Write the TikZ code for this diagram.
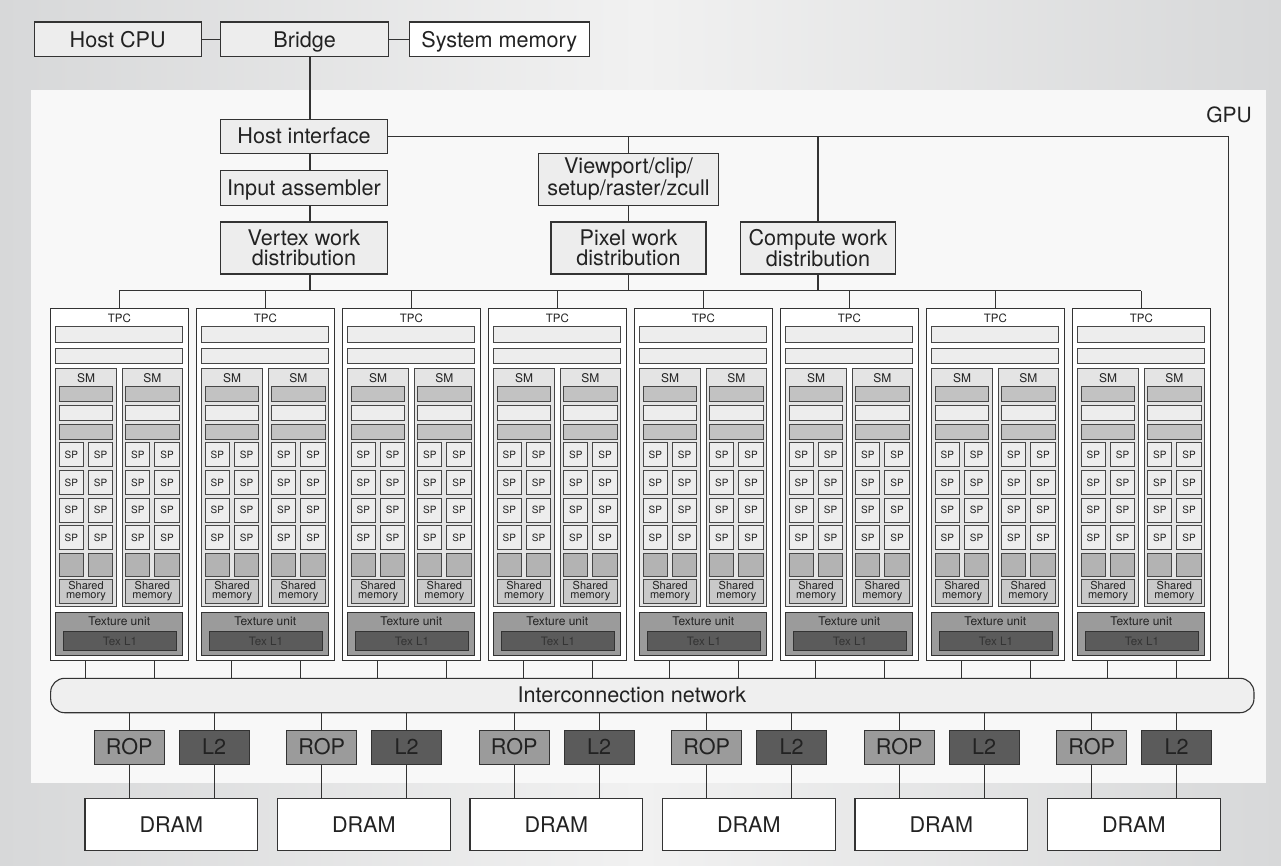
\documentclass[tikz,border=0pt]{standalone}
\usepackage{fontspec}
\setmainfont{TeX Gyre Heros}
\usetikzlibrary{calc}

\definecolor{bgdark}{HTML}{D7D8D9}
\definecolor{bglight}{HTML}{F1F1F1}
\definecolor{gpufill}{HTML}{F8F8F8}
\definecolor{boxfill}{HTML}{EDEDED}
\definecolor{linecol}{HTML}{333333}
\definecolor{innercol}{HTML}{474747}
\definecolor{txtcol}{HTML}{222222}
\definecolor{smfill}{HTML}{E4E4E4}
\definecolor{bardark}{HTML}{C2C2C2}
\definecolor{sqfill}{HTML}{B3B3B3}
\definecolor{shfill}{HTML}{C9C9C9}
\definecolor{texfill}{HTML}{9B9B9B}
\definecolor{tlfill}{HTML}{5B5B5B}
\definecolor{icnfill}{HTML}{EFEFEF}

\newcommand{\bigfont}{\fontsize{21.6}{20}\selectfont}

\begin{document}
\begin{tikzpicture}[x=1pt, y=-1pt,
	line/.style={draw=linecol, line width=1.1pt},
	blk/.style={line, fill=boxfill, inner sep=0pt, align=center, text=txtcol, font=\bigfont},
	oneline/.style={text height=15.5pt, text depth=0pt},
	tpcbox/.style={draw=linecol, line width=1pt, fill=white, inner sep=0pt},
	bar/.style={draw=innercol, line width=0.9pt, fill=boxfill},
	darkbar/.style={bar, fill=bardark},
	smbox/.style={draw=innercol, line width=0.9pt, fill=smfill},
	spbox/.style={draw=innercol, line width=0.9pt, fill=boxfill, inner sep=0pt, text=txtcol,
		minimum width=24.2pt, minimum height=24pt, font=\fontsize{10}{10}\selectfont},
	shbox/.style={draw=innercol, line width=0.9pt, fill=shfill, inner sep=0pt, align=center, text=txtcol,
		minimum width=53.4pt, minimum height=24.3pt, font=\fontsize{11}{9.6}\selectfont},
	texbox/.style={draw=linecol, line width=0.9pt, fill=texfill, inner sep=0pt},
	tlbox/.style={draw=linecol, line width=0.9pt, fill=tlfill, inner sep=0pt, text=black!80,
		minimum width=113.4pt, minimum height=19pt, font=\fontsize{11.6}{12}\selectfont},
	ropbox/.style={blk, oneline, fill=texfill, minimum width=69.7pt, minimum height=34.3pt},
	ltwobox/.style={blk, oneline, fill=tlfill, minimum width=69.7pt, minimum height=34.3pt},
	drambox/.style={blk, oneline, fill=white, minimum width=172.7pt, minimum height=52.4pt}]

	\useasboundingbox (0,0) rectangle (1281,865);
	\shade[left color=bgdark, right color=bgdark, middle color=bglight] (0,0) rectangle (1281,865);
	\fill[gpufill] (31,90) rectangle (1266,782.7);
	\node[text=txtcol, font=\fontsize{21}{22}\selectfont] (gpulbl) at (1229,115) {GPU};

	% host side
	\node[blk, oneline, minimum width=166.7pt, minimum height=34.7pt] (hostcpu) at (117.7,39.3) {Host CPU};
	\node[blk, oneline, minimum width=168pt, minimum height=34.7pt] (bridge) at (304.7,39.3) {Bridge};
	\node[blk, oneline, fill=white, minimum width=180pt, minimum height=34.7pt] (sysmem) at (499.3,39.3) {System memory};
	\draw[line] (hostcpu) -- (bridge);
	\draw[line] (bridge) -- (sysmem);

	% front end
	\coordinate (spine) at (310,0);
	\coordinate (hostrt) at (1228.3,0);
	\coordinate (bus) at (0,290.7);
	\node[blk, oneline, minimum width=166.6pt, minimum height=34.3pt] (hostif) at (304,136.2) {Host interface};
	\node[blk, oneline, minimum width=166.6pt, minimum height=34.3pt] (inasm) at (304,187.9) {Input assembler};
	\node[blk, minimum width=166.6pt, minimum height=52pt] (vwd) at (304,248) {Vertex work\\distribution};
	\node[blk, minimum width=180.4pt, minimum height=51.7pt] (vpc) at (628.5,179.2) {Viewport/clip/\\setup/raster/zcull};
	\node[blk, minimum width=155pt, minimum height=52pt] (pwd) at (628.5,248) {Pixel work\\distribution};
	\node[blk, minimum width=155.3pt, minimum height=52pt] (cwd) at (818,248) {Compute work\\distribution};

	\draw[line] (bridge.south -| spine) -- (hostif.north -| spine);
	\draw[line] (hostif.south -| spine) -- (inasm.north -| spine);
	\draw[line] (inasm.south -| spine) -- (vwd.north -| spine);
	\draw[line] (vpc.north) -- (vpc.north |- hostif.east);
	\draw[line] (cwd.north) -- (cwd.north |- hostif.east);
	\draw[line] (vpc.south) -- (pwd.north);

	% interconnect
	\node[line, fill=icnfill, rounded corners=14pt, minimum width=1203.3pt, minimum height=34.4pt, inner sep=0pt] (icn) at (652.3,695.5) {};
	\node[text=txtcol, font=\bigfont] (icntxt) at (632,694.5) {Interconnection network};
	\draw[line] (hostif.east) -| (icn.north -| hostrt);

	% TPCs
	\foreach \i in {1,...,8}{
		\pgfmathsetmacro{\tl}{50.7+146*(\i-1)}
		\node[tpcbox, minimum width=137.3pt, minimum height=352pt] (tpc\i) at (\tl+68.65,484) {};
		\begin{scope}[shift={(\tl,308)}]
			\node[text=txtcol, font=\fontsize{11.5}{12}\selectfont] (tpclbl\i) at (68.65,10) {TPC};
			\draw[bar] (5,18.7) rectangle (132,34);
			\draw[bar] (5,40) rectangle (132,55);
			\foreach \s/\sx in {a/5,b/71.4}{
				\begin{scope}[shift={(\sx,60)}]
					\draw[smbox] (0,0) rectangle (60.6,238.7);
					\node[text=txtcol, font=\fontsize{12}{12}\selectfont] (smlbl\i\s) at (30.3,10) {SM};
					\draw[darkbar] (3.6,18.7) rectangle (57,33.7);
					\draw[bar] (3.6,37) rectangle (57,52);
					\draw[darkbar] (3.6,56) rectangle (57,71);
					\foreach \r/\ry in {1/86.7,2/114.4,3/142.1,4/169.8}{
						\node[spbox] (spl\i\s\r) at (15.7,\ry) {SP};
						\node[spbox] (spr\i\s\r) at (44.9,\ry) {SP};
					}
					\draw[smbox, fill=sqfill] (3.6,185.5) rectangle (27.8,208);
					\draw[smbox, fill=sqfill] (32.8,185.5) rectangle (57,208);
					\node[shbox] (shm\i\s) at (30.3,223.2) {Shared\\memory};
				\end{scope}
			}
			\node[texbox, minimum width=127pt, minimum height=42.3pt] (texu\i) at (68.5,325.85) {};
			\node[text=txtcol, font=\fontsize{12}{12}\selectfont] (texlbl\i) at (68.5,313.7) {Texture unit};
			\node[tlbox] (texlone\i) at (69.3,333.2) {Tex L1};
		\end{scope}
		\draw[line] (tpc\i.north) -- (tpc\i.north |- bus);
		\coordinate (dl\i) at ($(tpc\i.south west)+(35,0)$);
		\coordinate (dr\i) at ($(tpc\i.south west)+(104,0)$);
		\draw[line] (dl\i) -- (dl\i |- icn.north);
		\draw[line] (dr\i) -- (dr\i |- icn.north);
	}
	\draw[line] (tpc1.north |- bus) -- (tpc8.north |- bus);
	\draw[line] (vwd.south -| spine) -- (spine |- bus);
	\draw[line] (pwd.south) -- (pwd.south |- bus);
	\draw[line] (cwd.south) -- (cwd.south |- bus);

	% memory partitions
	\foreach \j in {0,...,5}{
		\pgfmathsetmacro{\dx}{85+192.5*\j}
		\node[ropbox] (rop\j) at (\dx+44.2,747.2) {ROP};
		\node[ltwobox] (ltwo\j) at (\dx+129.2,747.2) {L2};
		\node[drambox] (dram\j) at (\dx+86.3,824.5) {DRAM};
		\draw[line] (rop\j.north |- icn.south) -- (rop\j.north);
		\draw[line] (ltwo\j.north |- icn.south) -- (ltwo\j.north);
		\draw[line] (rop\j.south) -- (rop\j.south |- dram\j.north);
		\draw[line] (ltwo\j.south) -- (ltwo\j.south |- dram\j.north);
	}
\end{tikzpicture}
\end{document}
